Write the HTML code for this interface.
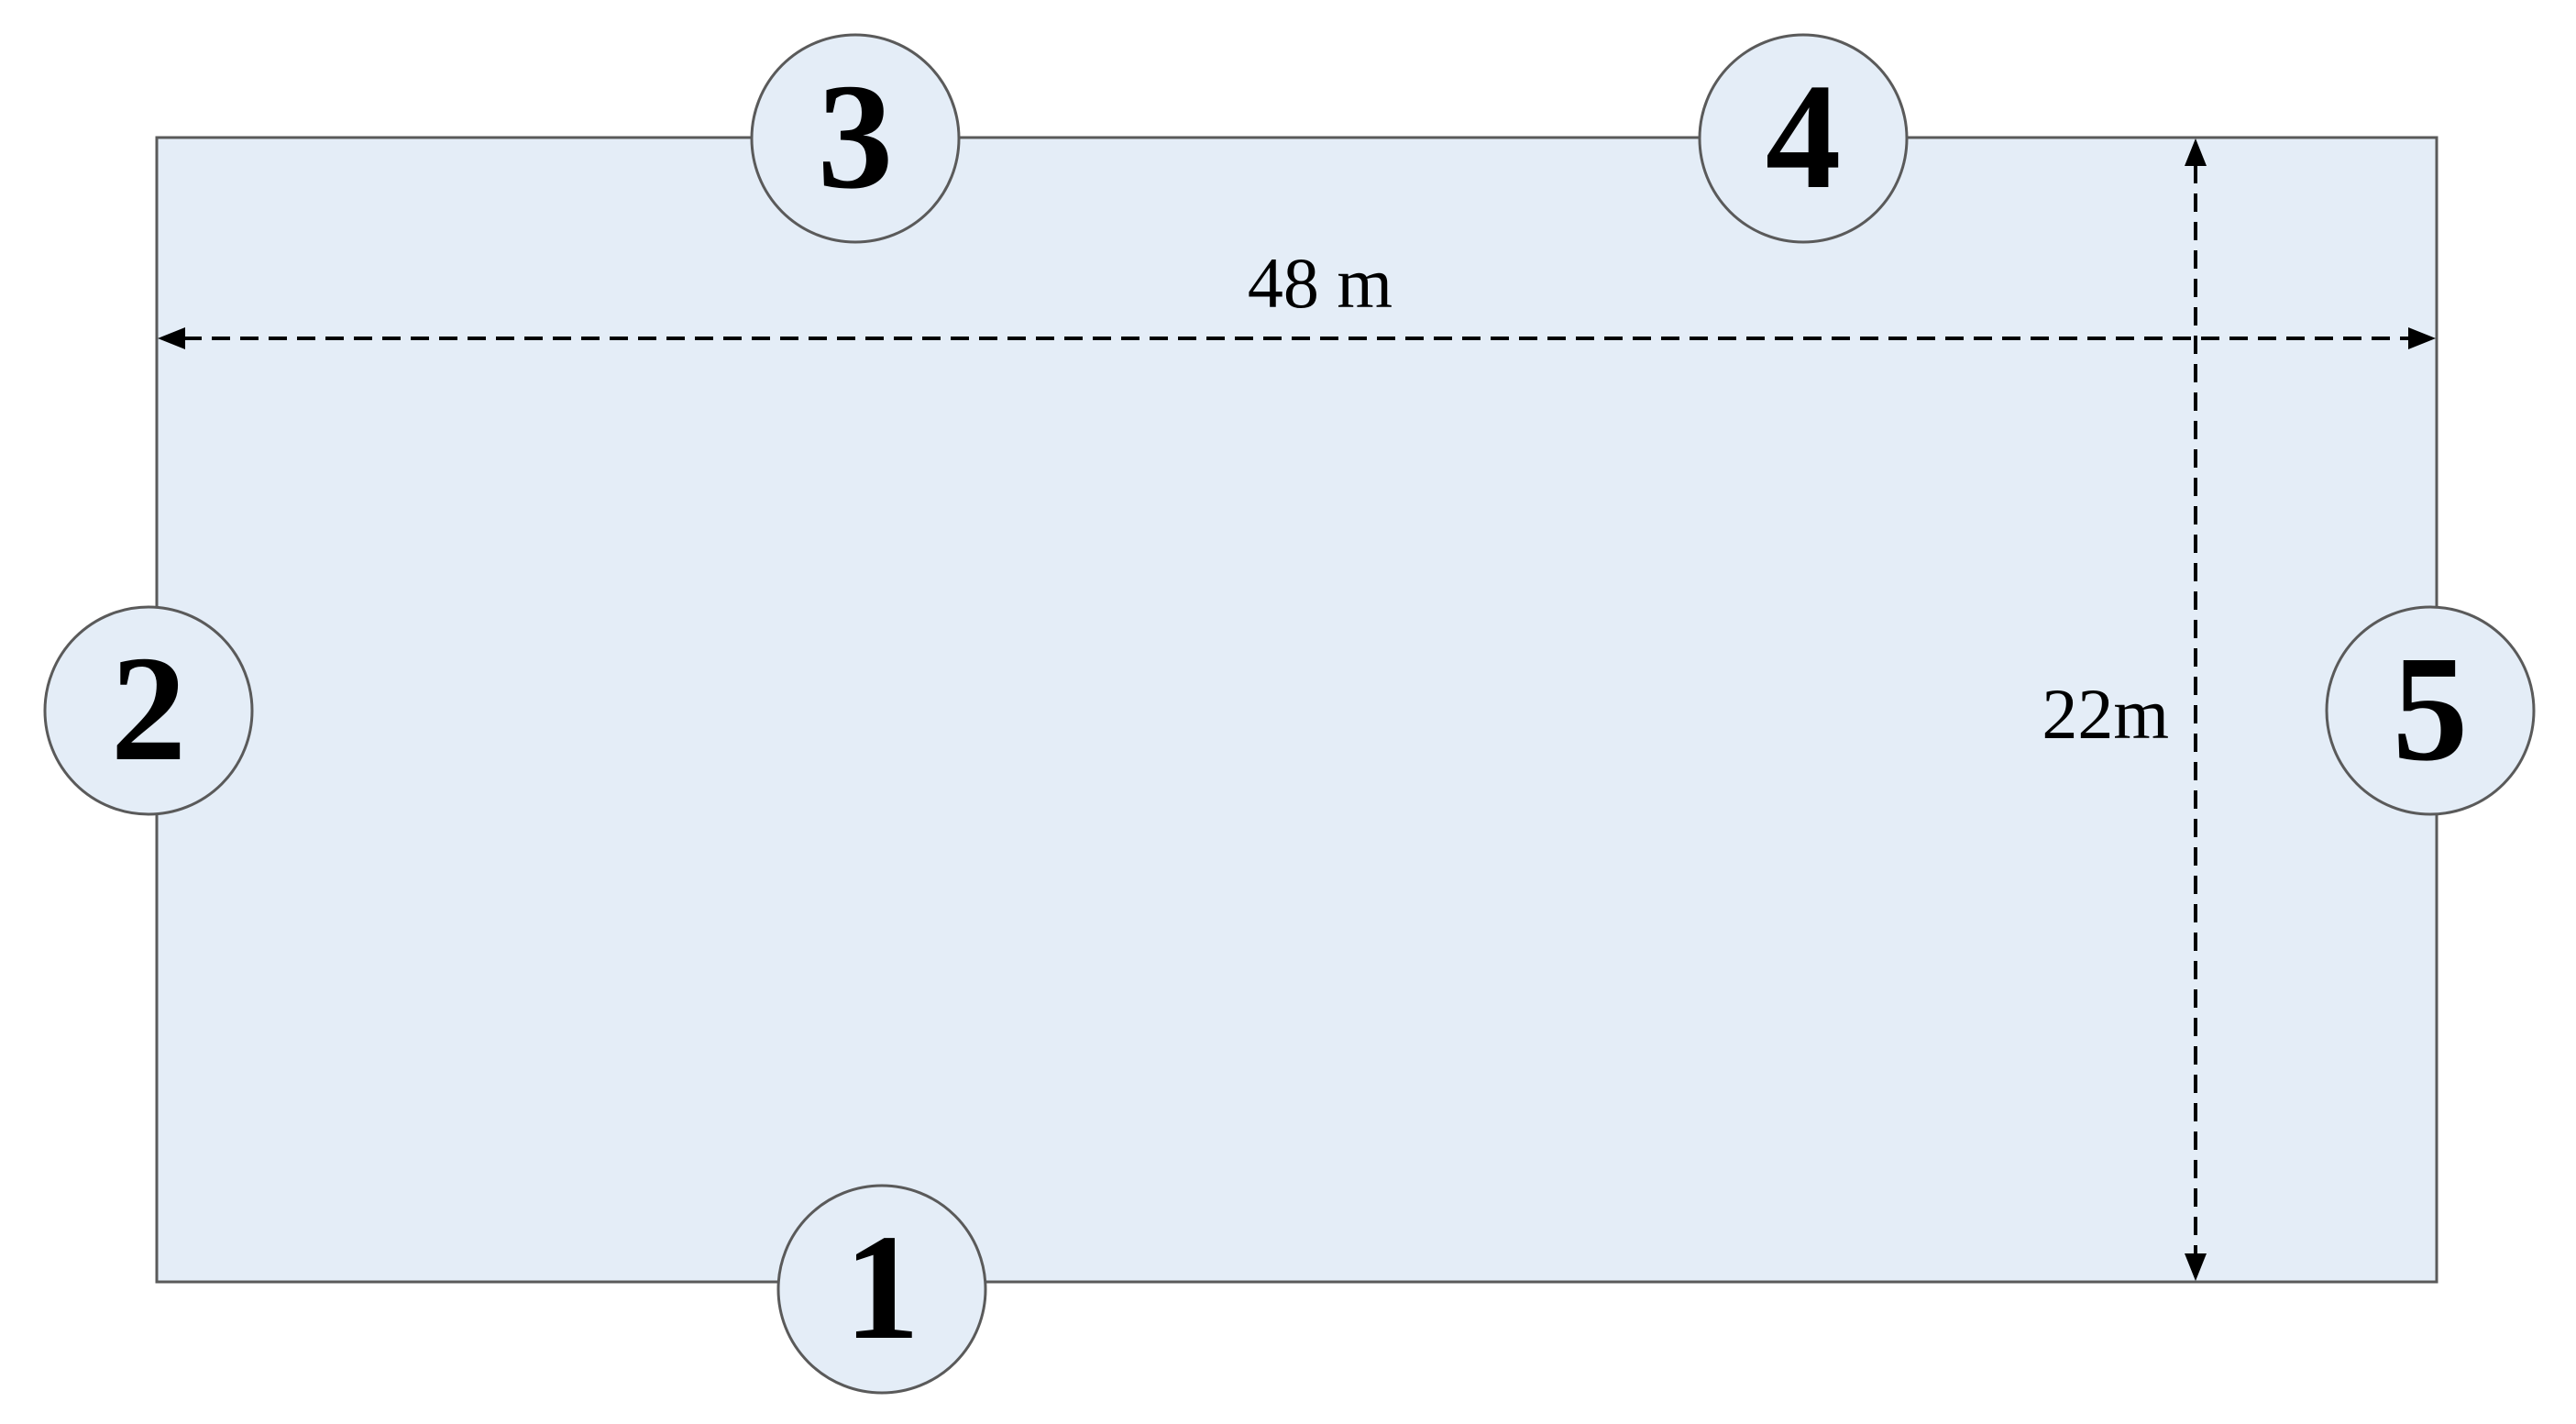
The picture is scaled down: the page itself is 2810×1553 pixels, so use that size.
<!DOCTYPE html>
<html><head><meta charset="utf-8"><style>
html,body{margin:0;padding:0;background:#fff;}
svg{display:block;}
</style></head><body>
<svg width="2810" height="1553" viewBox="0 0 2810 1553" xmlns="http://www.w3.org/2000/svg">
<rect x="171" y="150" width="2487" height="1248" fill="#e4edf7" stroke="#5a5a5a" stroke-width="3"/>
<line x1="200" y1="369" x2="2630" y2="369" stroke="#000" stroke-width="4" stroke-dasharray="20,11"/>
<path d="M172,369 L202,357 L202,381 Z" fill="#000"/>
<path d="M2657,369 L2627,357 L2627,381 Z" fill="#000"/>
<line x1="2395" y1="180" x2="2395" y2="1370" stroke="#000" stroke-width="4" stroke-dasharray="20,11"/>
<path d="M2395,151 L2383,181 L2407,181 Z" fill="#000"/>
<path d="M2395,1397 L2383,1367 L2407,1367 Z" fill="#000"/>
<text x="1440" y="335" font-family="Liberation Serif, serif" font-size="78" text-anchor="middle" fill="#000">48 m</text>
<text x="2366" y="805" font-family="Liberation Serif, serif" font-size="78" text-anchor="end" fill="#000">22m</text>
<g fill="#e4edf7" stroke="#5a5a5a" stroke-width="3">
<circle cx="933" cy="151" r="113"/>
<circle cx="1967" cy="151" r="113"/>
<circle cx="162" cy="775" r="113"/>
<circle cx="2651" cy="775" r="113"/>
<circle cx="962" cy="1406" r="113"/>
</g>
<g font-family="Liberation Serif, serif" font-size="165" font-weight="bold" text-anchor="middle" fill="#000">
<text x="933" y="204">3</text>
<text x="1967" y="204">4</text>
<text x="162" y="828">2</text>
<text x="2651" y="828">5</text>
<text x="962" y="1459">1</text>
</g>
</svg>
</body></html>
